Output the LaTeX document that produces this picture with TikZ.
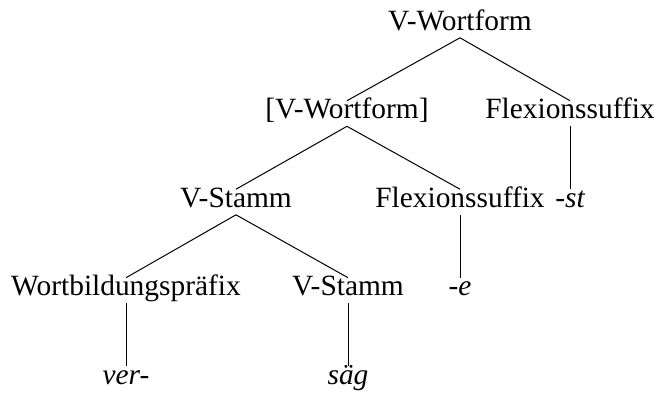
\documentclass[tikz,border=0pt]{standalone}
\usepackage{fontspec}
\setmainfont{Liberation Serif}
\begin{document}
\begin{tikzpicture}[x=0.5pt, y=-0.5pt,
  cat/.style={inner sep=1.2pt, text height=0.75em, text depth=0.25em, anchor=base,
    font=\fontsize{14.7pt}{17pt}\selectfont},
  form/.style={cat, font=\fontsize{14.7pt}{17pt}\selectfont\itshape},
  edge/.style={line width=0.5pt}]
\useasboundingbox (0,0) rectangle (654,393);
% categories
\node[cat] (vw) at (460,30) {V-Wortform};
\node[cat] (vwb) at (347,118.5) {[V-Wortform]};
\node[cat] (fs1) at (570,118.5) {Flexionssuffix};
\node[cat] (vs1) at (236,207) {V-Stamm};
\node[cat] (fs2) at (460,207) {Flexionssuffix};
\node[cat] (wbp) at (126,295.5) {Wortbildungspräfix};
\node[cat] (vs2) at (348,295.5) {V-Stamm};
% word forms
\node[form] (st) at (570,207) {-st};
\node[form] (e) at (460,295.5) {-e};
\node[form] (ver) at (126,384) {ver-};
\node[form] (saeg) at (348,384) {säg};
% edges
\draw[edge] (vw.south) -- (vwb.north);
\draw[edge] (vw.south) -- (fs1.north);
\draw[edge] (vwb.south) -- (vs1.north);
\draw[edge] (vwb.south) -- (fs2.north);
\draw[edge] (vs1.south) -- (wbp.north);
\draw[edge] (vs1.south) -- (vs2.north);
\draw[edge] (fs1.south) -- (st.north);
\draw[edge] (fs2.south) -- (e.north);
\draw[edge] (wbp.south) -- (ver.north);
\draw[edge] (vs2.south) -- (saeg.north);
\end{tikzpicture}
\end{document}
